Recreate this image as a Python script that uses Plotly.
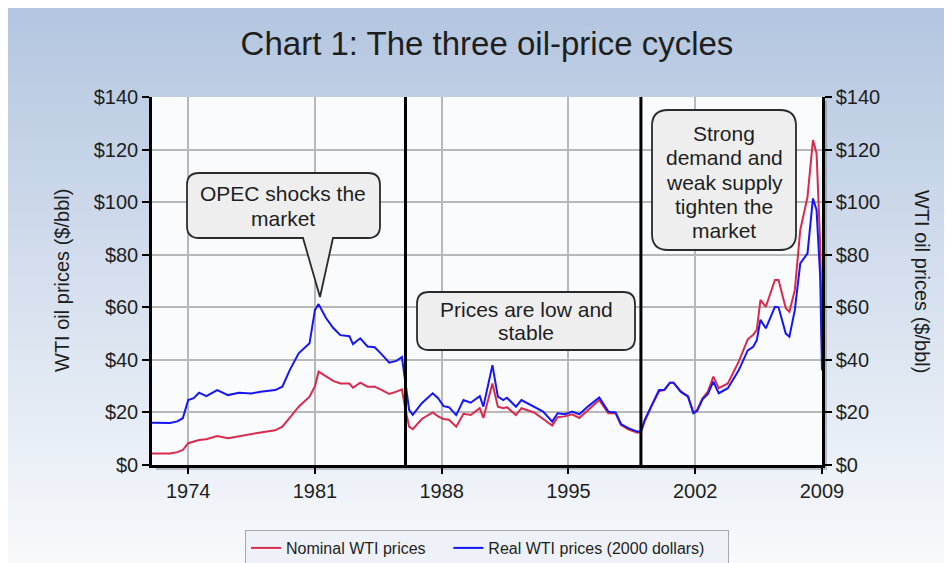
import plotly.graph_objects as go

# WTI oil prices, decimal years ($/bbl)
years = [1972.0, 1972.5, 1973.0, 1973.4, 1973.7, 1974.0, 1974.3, 1974.6, 1975.0, 1975.6,
         1976.2, 1976.8, 1977.5, 1978.0, 1978.8, 1979.2, 1979.6, 1980.1, 1980.7, 1981.0,
         1981.2, 1981.6, 1982.0, 1982.4, 1982.9, 1983.1, 1983.5, 1983.9, 1984.3, 1984.7,
         1985.1, 1985.5, 1985.8, 1986.0, 1986.2, 1986.4, 1986.9, 1987.5, 1987.8, 1988.1,
         1988.4, 1988.8, 1989.2, 1989.6, 1990.1, 1990.3, 1990.8, 1991.1, 1991.4, 1991.6,
         1992.1, 1992.4, 1993.1, 1993.6, 1994.1, 1994.4, 1994.8, 1995.2, 1995.6, 1996.1,
         1996.7, 1997.2, 1997.6, 1997.9, 1998.3, 1998.8, 1999.0, 1999.2, 1999.6, 2000.0,
         2000.3, 2000.6, 2000.8, 2001.2, 2001.6, 2001.9, 2002.1, 2002.4, 2002.7, 2003.0,
         2003.3, 2003.8, 2004.4, 2004.9, 2005.2, 2005.4, 2005.6, 2005.9, 2006.4, 2006.6,
         2007.0, 2007.2, 2007.5, 2007.8, 2008.2, 2008.5, 2008.7, 2008.9, 2009.0]
nominal = [4.4, 4.4, 4.4, 4.9, 5.7, 8.3, 9.0, 9.5, 9.8, 11.0,
           10.2, 11.0, 12.0, 12.4, 13.2, 14.6, 17.9, 22.2, 26.0, 30.0,
           35.5, 33.6, 32.0, 31.0, 31.0, 29.4, 31.3, 29.8, 29.8, 28.5,
           27.0, 27.9, 28.8, 21.0, 14.6, 13.6, 17.5, 20.0, 18.5, 17.5,
           17.2, 14.6, 19.5, 19.0, 21.6, 17.9, 31.0, 22.2, 21.6, 22.0,
           19.0, 21.6, 20.0, 17.5, 15.0, 18.2, 18.5, 19.3, 17.9, 21.0,
           24.7, 19.7, 19.7, 15.2, 13.6, 12.3, 12.5, 16.5, 22.6, 28.0,
           28.6, 31.3, 31.3, 27.9, 26.2, 19.9, 20.9, 25.4, 27.9, 33.6,
           29.2, 31.0, 39.3, 47.8, 49.5, 51.4, 62.8, 60.2, 70.4, 70.4,
           59.6, 58.3, 66.6, 89.4, 102.0, 123.6, 118.5, 84.0, 46.0]
real = [16.1, 16.0, 16.0, 16.6, 17.8, 24.7, 25.4, 27.5, 26.2, 28.5,
        26.6, 27.5, 27.2, 27.9, 28.5, 29.8, 36.0, 42.5, 46.3, 59.0,
        61.2, 56.0, 52.2, 49.4, 49.0, 46.0, 48.2, 45.1, 44.8, 42.0,
        38.9, 39.6, 41.1, 31.0, 21.0, 19.1, 23.5, 27.3, 25.4, 22.4,
        22.0, 19.0, 24.7, 23.7, 26.2, 22.2, 38.0, 26.0, 24.7, 25.6,
        22.2, 24.7, 22.2, 20.3, 16.5, 19.7, 19.3, 20.3, 19.3, 22.4,
        25.7, 20.3, 20.0, 15.6, 14.0, 12.7, 12.7, 17.0, 22.8, 28.5,
        28.6, 31.3, 31.3, 27.9, 26.0, 19.7, 20.5, 25.0, 27.0, 31.7,
        27.3, 29.2, 36.0, 43.6, 45.0, 47.5, 55.2, 52.0, 60.2, 60.0,
        50.0, 48.8, 59.0, 76.7, 80.5, 101.4, 97.0, 71.5, 36.0]

tick_years = [1974, 1981, 1988, 1995, 2002, 2009]
price_ticks = [0, 20, 40, 60, 80, 100, 120, 140]
price_labels = ["$0", "$20", "$40", "$60", "$80", "$100", "$120", "$140"]
period_breaks = [1986, 1999]

# page body adds an 8px margin, so the figure is laid out 8px smaller
PAD = 8
W, H = 952, 563
L, R, T, B = 152, 822, 97, 465
X0, X1, YMAX = 1972, 2009, 140
FONT = "Arial, Liberation Sans, sans-serif"
INK = "#1e1e1e"
SP = "\u00a0" * 4


def px(x):
    return (x - L) / (R - L)


def py(y):
    return (B - y) / (B - T)


def dx(x):
    return X0 + (x - L) * (X1 - X0) / (R - L)


def dy(y):
    return (B - y) * YMAX / (B - T)


def rounded_box(left, right, top, bottom, r=12, tip=None):
    x0, x1, y0, y1 = dx(left), dx(right), dy(bottom), dy(top)
    rx = r * (X1 - X0) / (R - L)
    ry = r * YMAX / (B - T)
    p = f"M{x0 + rx},{y1} L{x1 - rx},{y1} Q{x1},{y1} {x1},{y1 - ry} "
    p += f"L{x1},{y0 + ry} Q{x1},{y0} {x1 - rx},{y0} "
    if tip:
        b0, b1, tx, ty = tip
        p += f"L{dx(b1)},{y0} L{dx(tx)},{dy(ty)} L{dx(b0)},{y0} "
    p += f"L{x0 + rx},{y0} Q{x0},{y0} {x0},{y0 + ry} L{x0},{y1 - ry} Q{x0},{y1} {x0 + rx},{y1} Z"
    return p


fig = go.Figure()
fig.add_trace(go.Scatter(x=years, y=nominal, mode="lines", name="Nominal WTI prices" + SP,
                         line=dict(color="#d92a4e", width=2)))
fig.add_trace(go.Scatter(x=years, y=real, mode="lines",
                         name="Real WTI prices (2000 dollars)" + SP,
                         line=dict(color="#1616f2", width=2)))
fig.add_trace(go.Scatter(x=[years[0]], y=[real[0]], yaxis="y2", mode="markers",
                         marker=dict(opacity=0), showlegend=False, hoverinfo="skip"))

shapes = []
# background gradient
top_c, bot_c = (180, 198, 224), (247, 249, 252)
n = 60
for i in range(n):
    t = i / (n - 1)
    c = tuple(round(a + (b - a) * t) for a, b in zip(top_c, bot_c))
    ya = PAD + (H - PAD) * i / n
    yb = PAD + (H - PAD) * (i + 1) / n + 1
    shapes.append(dict(type="rect", xref="paper", yref="paper", layer="below",
                       x0=px(PAD), x1=px(W + 2), y0=py(yb), y1=py(ya),
                       fillcolor="rgb(%d,%d,%d)" % c, line=dict(width=0)))
# plot-area shadow and background
shapes.append(dict(type="rect", xref="paper", yref="paper", layer="below",
                   x0=px(L + 4), x1=px(R + 5), y0=py(B + 5), y1=py(T + 4),
                   fillcolor="rgba(80,90,110,0.35)", line=dict(width=0)))
shapes.append(dict(type="rect", xref="paper", yref="paper", layer="below",
                   x0=0, x1=1, y0=0, y1=1, fillcolor="#f9fbfd", line=dict(width=0)))
for yr in period_breaks:
    shapes.append(dict(type="line", xref="x", yref="y", x0=yr, x1=yr, y0=0, y1=YMAX,
                       line=dict(color="black", width=3)))

box_style = dict(xref="x", yref="y", type="path", fillcolor="#eeeeee",
                 line=dict(color="#2a2a2a", width=1.8))
shapes.append(dict(path=rounded_box(187, 380, 173, 238, tip=(303, 333, 320, 297)), **box_style))
shapes.append(dict(path=rounded_box(417, 635, 292, 350), **box_style))
shapes.append(dict(path=rounded_box(652, 796, 110, 250, r=16), **box_style))

callouts = [
    (283, [193, 218], ["OPEC shocks the", "market"]),
    (526, [309, 332], ["Prices are low and", "stable"]),
    (724, [133, 157.5, 182, 206, 230.5],
     ["Strong", "demand and", "weak supply", "tighten the", "market"]),
]
annotations = []
for cx, ys, lines in callouts:
    for yy, line in zip(ys, lines):
        annotations.append(dict(xref="paper", yref="paper", x=px(cx), y=py(yy), text=line,
                                xanchor="center", yanchor="middle", showarrow=False,
                                font=dict(family=FONT, size=21, color=INK)))
for cx, ang in [(62, -90), (922, 90)]:
    annotations.append(dict(xref="paper", yref="paper", x=px(cx), y=py(281),
                            text="WTI oil prices ($/bbl)", textangle=ang, showarrow=False,
                            xanchor="center", yanchor="middle",
                            font=dict(family=FONT, size=20, color=INK)))

yaxis_common = dict(range=[0, YMAX], tickvals=price_ticks, ticktext=price_labels,
                    showline=True, linecolor="black", linewidth=2.5, ticks="outside",
                    ticklen=7, tickcolor="black", tickwidth=1.5,
                    tickfont=dict(family=FONT, size=20, color=INK), zeroline=False)

fig.update_layout(
    width=W - PAD, height=H - PAD,
    margin=dict(l=L - PAD, r=W - R, t=T - PAD, b=H - B),
    paper_bgcolor="white",
    plot_bgcolor="#f9fbfd",
    title=dict(text="Chart 1: The three oil-price cycles", x=0.5, xref="paper",
               y=1 - (43 - PAD) / (H - PAD), yanchor="middle",
               font=dict(family=FONT, size=33, color=INK)),
    xaxis=dict(range=[X0, X1], tickvals=tick_years, showgrid=True, gridcolor="#b8b8b8",
               gridwidth=1.5, showline=True, linecolor="black", linewidth=2.5,
               ticks="outside", ticklen=6, tickcolor="black", tickwidth=1.5,
               tickfont=dict(family=FONT, size=20, color=INK), zeroline=False),
    yaxis=dict(showgrid=True, gridcolor="#b8b8b8", gridwidth=1.5, **yaxis_common),
    yaxis2=dict(overlaying="y", side="right", showgrid=False, **yaxis_common),
    legend=dict(orientation="h", x=0.5, xanchor="center", yref="container",
                y=1 - (530 - PAD) / (H - PAD), yanchor="top",
                bgcolor="#eef2f8", bordercolor="#a8a8a8", borderwidth=1,
                font=dict(family=FONT, size=16, color=INK)),
    shapes=shapes,
    annotations=annotations,
    showlegend=True,
)

fig.write_html("out.html")
